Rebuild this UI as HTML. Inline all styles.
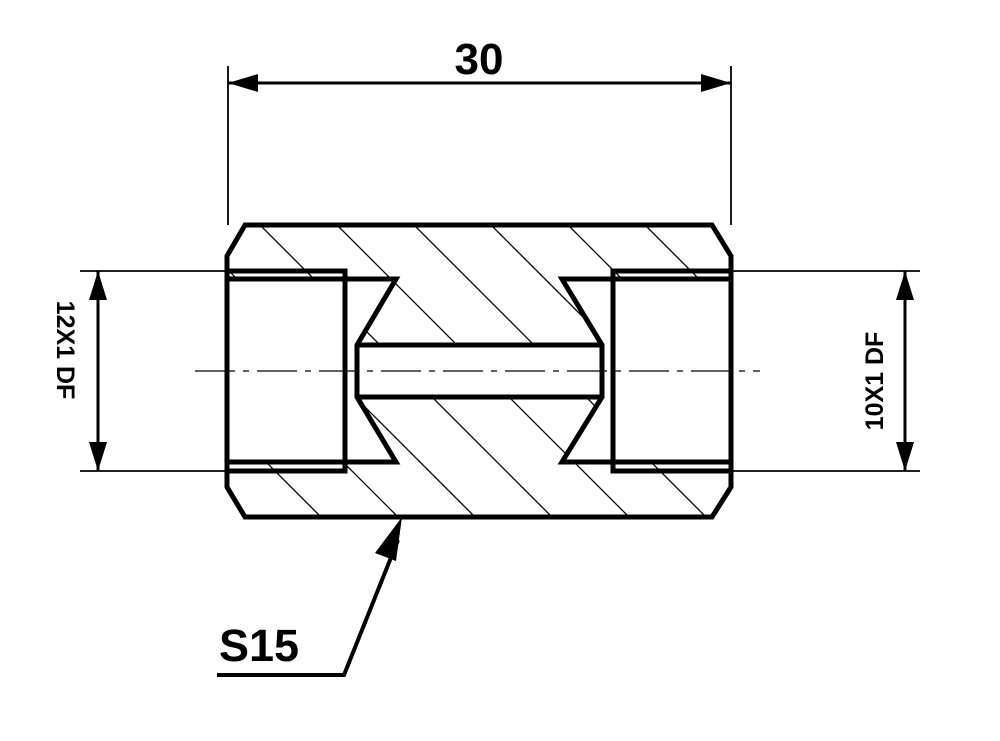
<!DOCTYPE html>
<html><head><meta charset="utf-8"><style>html,body{margin:0;padding:0;background:#fff;width:1000px;height:741px;overflow:hidden}svg{display:block}</style></head>
<body>
<svg width="1000" height="741" viewBox="0 0 1000 741" xmlns="http://www.w3.org/2000/svg">
<defs>
<clipPath id="b"><polygon points="245,225 712,225 731,256 731,487 712,517 245,517 227,487 227,256"/></clipPath>
</defs>
<g clip-path="url(#b)" stroke="#000" stroke-width="1.3">
<line x1="35" y1="0" x2="835" y2="800"/><line x1="112" y1="0" x2="912" y2="800"/><line x1="189" y1="0" x2="989" y2="800"/><line x1="266" y1="0" x2="1066" y2="800"/><line x1="343" y1="0" x2="1143" y2="800"/><line x1="420" y1="0" x2="1220" y2="800"/><line x1="497" y1="0" x2="1297" y2="800"/><line x1="574" y1="0" x2="1374" y2="800"/><line x1="-42" y1="0" x2="758" y2="800"/><line x1="-119" y1="0" x2="681" y2="800"/><line x1="-196" y1="0" x2="604" y2="800"/><line x1="-273" y1="0" x2="527" y2="800"/><line x1="-350" y1="0" x2="450" y2="800"/>
</g>
<g fill="#fff" stroke="none">
<rect x="227" y="279" width="118" height="183"/>
<polygon points="345,279 396,279 357,345 357,397 396,462 345,462"/>
<rect x="357" y="345" width="246" height="52"/>
<polygon points="613,279 562,279 602,345 602,397 562,462 613,462"/>
<rect x="613" y="279" width="118" height="183"/>
</g>
<g fill="none" stroke="#000" stroke-width="5" stroke-linejoin="miter">
<polygon points="245,225 712,225 731,256 731,487 712,517 245,517 227,487 227,256"/>
<polyline points="227,279 396,279 357,345 357,397 396,462 227,462"/>
<polyline points="227,271 345,271 345,471 227,471"/>
<line x1="357" y1="345" x2="602" y2="345"/><line x1="357" y1="397" x2="602" y2="397"/>
<polyline points="731,279 562,279 602,345 602,397 562,462 731,462"/>
<polyline points="731,271 613,271 613,471 731,471"/>
<polyline points="398,540 344,675 217,675" stroke-width="4"/>
</g>
<g stroke="#000" stroke-width="1.8" fill="none">
<line x1="195" y1="371" x2="760" y2="371" stroke-width="1.3" stroke-dasharray="40,8,6,8"/>
<line x1="228" y1="66" x2="228" y2="225"/><line x1="731" y1="66" x2="731" y2="225"/>
<line x1="228" y1="83" x2="731" y2="83" stroke-width="3"/>
<line x1="80" y1="271" x2="227" y2="271"/><line x1="80" y1="471" x2="227" y2="471"/>
<line x1="98" y1="271" x2="98" y2="471" stroke-width="3"/>
<line x1="731" y1="271" x2="920" y2="271"/><line x1="731" y1="471" x2="920" y2="471"/>
<line x1="905" y1="271" x2="905" y2="471" stroke-width="3"/>
</g>
<g fill="#000">
<polygon points="228,83 258,74 258,92"/><polygon points="731,83 701,74 701,92"/>
<polygon points="98,271 89,300 107,300"/><polygon points="98,471 89,442 107,442"/>
<polygon points="905,271 896,300 914,300"/><polygon points="905,471 896,442 914,442"/>
<polygon points="402,517 375,553 396,561"/>
</g>
<g font-family="'Liberation Sans',sans-serif" font-weight="bold" fill="#000">
<text x="479" y="74" font-size="44" text-anchor="middle">30</text>
<text x="259" y="661" font-size="45" text-anchor="middle">S15</text>
<text transform="translate(57,350) rotate(90)" font-size="25" text-anchor="middle">12X1 DF</text>
<text transform="translate(883,381) rotate(-90)" font-size="25" text-anchor="middle">10X1 DF</text>
</g>
</svg>
</body></html>
